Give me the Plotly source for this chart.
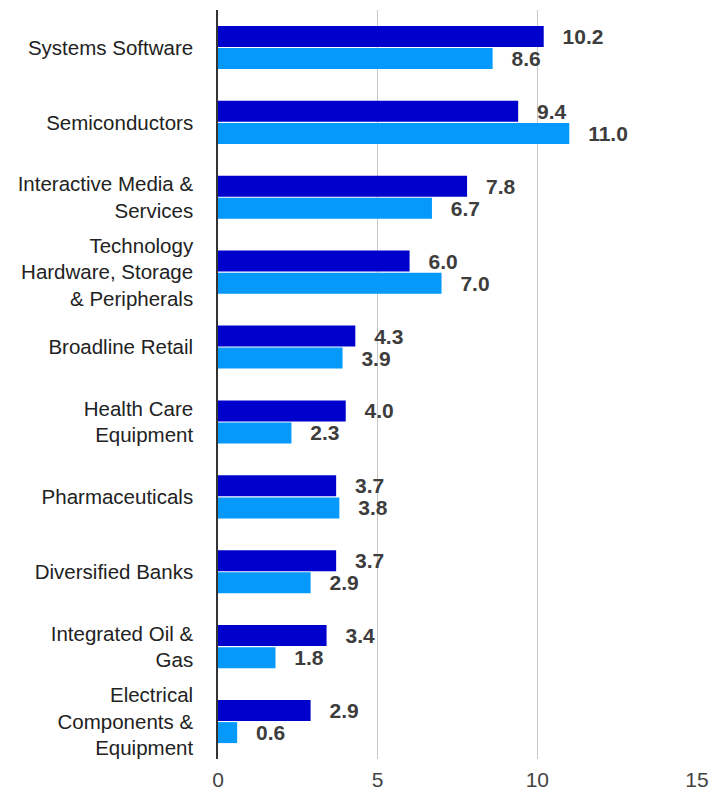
import plotly.graph_objects as go

categories = [
    "Systems Software",
    "Semiconductors",
    "Interactive Media &<br>Services",
    "Technology<br>Hardware, Storage<br>& Peripherals",
    "Broadline Retail",
    "Health Care<br>Equipment",
    "Pharmaceuticals",
    "Diversified Banks",
    "Integrated Oil &<br>Gas",
    "Electrical<br>Components &<br>Equipment",
]
series_1 = [10.2, 9.4, 7.8, 6.0, 4.3, 4.0, 3.7, 3.7, 3.4, 2.9]
series_2 = [8.6, 11.0, 6.7, 7.0, 3.9, 2.3, 3.8, 2.9, 1.8, 0.6]
x_ticks = [0, 5, 10, 15]

FONT = "Arial, Liberation Sans, sans-serif"
pad = "\u00a0\u00a0\u2009"

fig = go.Figure()
fig.add_trace(go.Bar(
    name="Series 1", y=categories, x=series_1, orientation="h",
    marker=dict(color="#0000CD", line=dict(width=0)),
    text=[pad + f"{v:.1f}" for v in series_1], textposition="outside",
    textfont=dict(family=FONT, size=21, color="#3d3d3d", weight="bold"),
    constraintext="none", cliponaxis=False,
))
fig.add_trace(go.Bar(
    name="Series 2", y=categories, x=series_2, orientation="h",
    marker=dict(color="#0599FC", line=dict(width=0)),
    text=[pad + f"{v:.1f}" for v in series_2], textposition="outside",
    textfont=dict(family=FONT, size=21, color="#3d3d3d", weight="bold"),
    constraintext="none", cliponaxis=False,
))

fig.update_layout(
    width=728, height=793,
    margin=dict(l=218, r=31, t=10, b=34, autoexpand=False),
    barmode="group", bargap=0.41, bargroupgap=0.05,
    showlegend=False,
    plot_bgcolor="white", paper_bgcolor="white",
    font=dict(family=FONT),
    xaxis=dict(
        range=[0, 15], tickvals=x_ticks, showgrid=True, gridcolor="#c8c8c8", gridwidth=1,
        zeroline=False, showline=False, tickfont=dict(size=21, color="#444444"),
        ticks="", ticklabelstandoff=6, automargin=False,
    ),
    yaxis=dict(
        autorange="reversed", showline=True, linecolor="#333333", linewidth=1.5,
        tickfont=dict(size=20.5, color="#222222"), ticks="", ticklabelstandoff=19,
        showgrid=False, automargin=False,
    ),
)

fig.write_html("out.html")
